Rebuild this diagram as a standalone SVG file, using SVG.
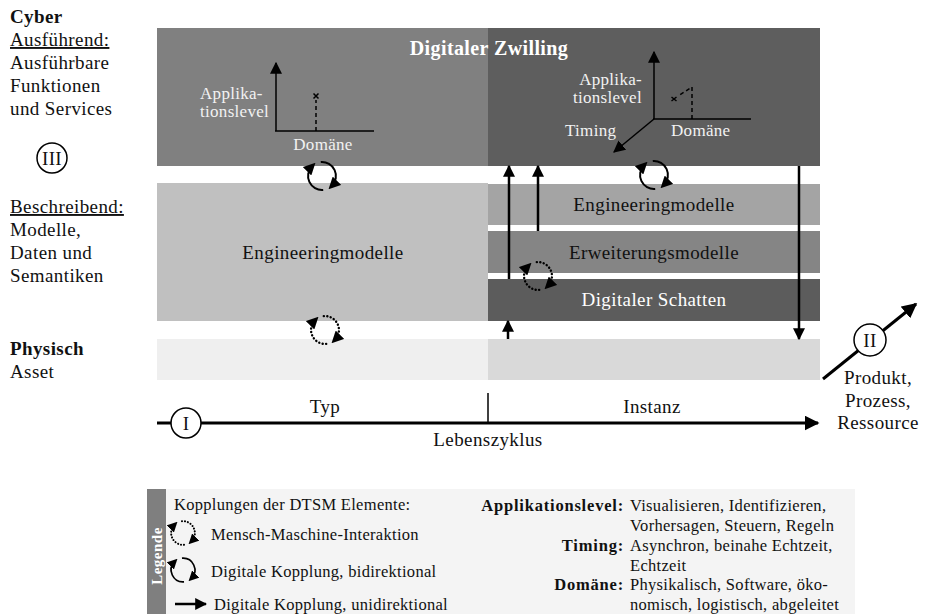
<svg xmlns="http://www.w3.org/2000/svg" width="927" height="614" viewBox="0 0 927 614">
  <style>
    text { font-family: "Liberation Serif", "DejaVu Serif", serif; fill: #111; }
    .lbl { font-size: 19px; letter-spacing: 0.4px; }
    .ax { font-size: 17px; letter-spacing: 0.3px; fill: #f2f2f2; }
    .wt { fill: #ffffff; }
    .b { font-weight: bold; }
    .leg { font-size: 16.5px; letter-spacing: 0.3px; }
    .legb { font-size: 16.5px; letter-spacing: 0.8px; font-weight: bold; }
    .ln { stroke: #000; stroke-width: 2.5; fill: none; }
    .thin { stroke: #000; stroke-width: 1.5; fill: none; }
    .cyc { stroke: #000; stroke-width: 2; fill: none; }
    .dot { stroke-dasharray: 0.1 3.4; stroke-linecap: round; stroke-width: 2.4; }
  </style>
  <defs>
    <marker id="ah" viewBox="0 0 10 10" refX="9" refY="5" markerWidth="12" markerHeight="12" markerUnits="userSpaceOnUse" orient="auto">
      <path d="M0,0 L10,5 L0,10 z" fill="#000"/>
    </marker>
    <marker id="ahs" viewBox="0 0 10 10" refX="6" refY="5" markerWidth="12" markerHeight="12" markerUnits="userSpaceOnUse" orient="auto">
      <path d="M0,0 L10,5 L0,10 z" fill="#000"/>
    </marker>
    <marker id="ahL" viewBox="0 0 10 10" refX="9" refY="5" markerWidth="15" markerHeight="15" markerUnits="userSpaceOnUse" orient="auto">
      <path d="M0,0 L10,5 L0,10 z" fill="#000"/>
    </marker>
    <!-- bidirectional coupling: two arcs chasing each other round a circle -->
    <g id="cycle">
      <path class="cyc" d="M-1.2,-13.9 A14,14 0 0 1 9.9,9.9" marker-end="url(#ahs)"/>
      <path class="cyc" d="M1.2,13.9 A14,14 0 0 1 -9.9,-9.9" marker-end="url(#ahs)"/>
    </g>
    <g id="cycleDot">
      <path class="cyc dot" d="M-1.2,-13.9 A14,14 0 0 1 9.9,9.9" marker-end="url(#ahs)"/>
      <path class="cyc dot" d="M1.2,13.9 A14,14 0 0 1 -9.9,-9.9" marker-end="url(#ahs)"/>
    </g>
  </defs>

  <rect width="927" height="614" fill="#ffffff"/>

  <!-- left column: layer captions -->
  <g id="layer-labels" class="lbl">
    <text x="10" y="23" class="b">Cyber</text>
    <text x="10" y="46" text-decoration="underline">Ausführend:</text>
    <text x="10" y="69">Ausführbare</text>
    <text x="10" y="92">Funktionen</text>
    <text x="10" y="115">und Services</text>
    <text x="10" y="213" text-decoration="underline">Beschreibend:</text>
    <text x="10" y="236">Modelle,</text>
    <text x="10" y="259">Daten und</text>
    <text x="10" y="282">Semantiken</text>
    <text x="10" y="355" class="b">Physisch</text>
    <text x="10" y="378">Asset</text>
  </g>
  <g id="marker-III">
    <circle cx="52" cy="158" r="15" fill="#fff" stroke="#000" stroke-width="1.5"/>
    <text x="52" y="165" class="lbl" text-anchor="middle">III</text>
  </g>

  <!-- digital twin band -->
  <g id="twin">
    <rect x="157" y="28" width="331" height="138" fill="#808080"/>
    <rect x="488" y="28" width="332" height="138" fill="#5e5e5e"/>
    <text x="489" y="55" text-anchor="middle" class="wt b" font-size="20" letter-spacing="0.4">Digitaler Zwilling</text>
  </g>

  <!-- 2D axis chart (type side) -->
  <g id="axes-type">
    <line class="thin" x1="276" y1="131" x2="276" y2="63" marker-end="url(#ah)"/>
    <line class="thin" x1="275" y1="131" x2="374" y2="131"/>
    <line class="thin" x1="316" y1="131" x2="316" y2="100" stroke-dasharray="4 3"/>
    <path class="thin" d="M313.5,93.5 l5,5 M318.5,93.5 l-5,5" stroke-width="1.3"/>
    <text x="200" y="99" class="ax">Applika-</text>
    <text x="200" y="117" class="ax">tionslevel</text>
    <text x="323" y="150" class="ax" text-anchor="middle">Domäne</text>
  </g>

  <!-- 3D axis chart (instance side) -->
  <g id="axes-instance">
    <line class="thin" x1="654" y1="119" x2="654" y2="52" marker-end="url(#ah)"/>
    <line class="thin" x1="653" y1="119" x2="751" y2="119"/>
    <line class="thin" x1="654" y1="119" x2="614" y2="152" marker-end="url(#ah)"/>
    <path class="thin" d="M692,119 V87 L678,96" stroke-dasharray="4 3"/>
    <path class="thin" d="M671.5,97 l5,4 M676.5,97 l-5,4" stroke-width="1.3"/>
    <text x="642" y="85" class="ax" text-anchor="end">Applika-</text>
    <text x="642" y="103" class="ax" text-anchor="end">tionslevel</text>
    <text x="565" y="136" class="ax">Timing</text>
    <text x="671" y="136" class="ax">Domäne</text>
  </g>

  <!-- descriptive layer: type -->
  <g id="models-type">
    <rect x="157" y="183" width="331" height="138" fill="#c0c0c0"/>
    <text x="323" y="259" class="lbl" text-anchor="middle">Engineeringmodelle</text>
  </g>

  <!-- descriptive layer: instance -->
  <g id="models-instance">
    <rect x="488" y="184" width="332" height="41" fill="#a4a4a4"/>
    <text x="654" y="211" class="lbl" text-anchor="middle">Engineeringmodelle</text>
  </g>
  <g id="extension-models">
    <rect x="488" y="231" width="332" height="42" fill="#858585"/>
    <text x="654" y="259" class="lbl" text-anchor="middle">Erweiterungsmodelle</text>
  </g>
  <g id="digital-shadow">
    <rect x="488" y="279" width="332" height="42" fill="#5c5c5c"/>
    <text x="654" y="306" class="lbl wt" text-anchor="middle">Digitaler Schatten</text>
  </g>

  <!-- physical layer -->
  <g id="asset">
    <rect x="157" y="339" width="331" height="41" fill="#efefef"/>
    <rect x="488" y="339" width="332" height="41" fill="#d9d9d9"/>
  </g>

  <!-- couplings -->
  <g id="connectors">
    <line class="ln" x1="509" y1="279" x2="509" y2="166" marker-end="url(#ah)"/>
    <line class="ln" x1="538" y1="231" x2="538" y2="166" marker-end="url(#ah)"/>
    <line class="ln" x1="508" y1="339" x2="508" y2="321" marker-end="url(#ah)"/>
    <line class="ln" x1="799" y1="166" x2="799" y2="339" marker-end="url(#ah)"/>
    <use href="#cycle" x="322" y="176"/>
    <use href="#cycle" x="654" y="175"/>
    <use href="#cycleDot" x="325" y="330"/>
    <use href="#cycleDot" x="538" y="276"/>
  </g>

  <!-- lifecycle axis -->
  <g id="lifecycle">
    <line x1="157" y1="423" x2="818" y2="423" stroke="#000" stroke-width="3" marker-end="url(#ahL)"/>
    <line x1="488" y1="393" x2="488" y2="423" stroke="#000" stroke-width="1.5"/>
    <circle cx="186" cy="423" r="15" fill="#fff" stroke="#000" stroke-width="1.5"/>
    <text x="186" y="430" class="lbl" text-anchor="middle">I</text>
    <text x="325" y="413" class="lbl" text-anchor="middle">Typ</text>
    <text x="652" y="413" class="lbl" text-anchor="middle">Instanz</text>
    <text x="488" y="446" class="lbl" text-anchor="middle">Lebenszyklus</text>
  </g>

  <!-- product / process / resource axis -->
  <g id="ppr">
    <line x1="823" y1="379" x2="916" y2="304" stroke="#000" stroke-width="3" marker-end="url(#ahL)"/>
    <circle cx="870" cy="340" r="16" fill="#fff" stroke="#000" stroke-width="1.5"/>
    <text x="870" y="347" class="lbl" text-anchor="middle">II</text>
    <text x="878" y="384" class="lbl" text-anchor="middle">Produkt,</text>
    <text x="878" y="407" class="lbl" text-anchor="middle">Prozess,</text>
    <text x="878" y="429" class="lbl" text-anchor="middle">Ressource</text>
  </g>

  <!-- legend -->
  <g id="legend">
    <rect x="147" y="489" width="708" height="125" fill="#f4f4f4"/>
    <rect x="147" y="489" width="19" height="125" fill="#7f7f7f"/>
    <text transform="translate(162,556) rotate(-90)" text-anchor="middle" class="wt b" font-size="15" letter-spacing="0.5">Legende</text>
    <text x="174" y="510" class="leg">Kopplungen der DTSM Elemente:</text>
    <use href="#cycleDot" x="183" y="533" transform="translate(183,533) scale(0.85) translate(-183,-533)"/>
    <text x="211" y="540" class="leg">Mensch-Maschine-Interaktion</text>
    <use href="#cycle" x="183" y="570" transform="translate(183,570) scale(0.85) translate(-183,-570)"/>
    <text x="211" y="577" class="leg">Digitale Kopplung, bidirektional</text>
    <line x1="175" y1="604" x2="206" y2="604" stroke="#000" stroke-width="2.5" marker-end="url(#ah)"/>
    <text x="214" y="610" class="leg">Digitale Kopplung, unidirektional</text>

    <text x="624" y="511" class="legb" text-anchor="end">Applikationslevel:</text>
    <text x="630" y="511" class="leg">Visualisieren, Identifizieren,</text>
    <text x="630" y="531" class="leg">Vorhersagen, Steuern, Regeln</text>
    <text x="624" y="551" class="legb" text-anchor="end">Timing:</text>
    <text x="630" y="551" class="leg">Asynchron, beinahe Echtzeit,</text>
    <text x="630" y="571" class="leg">Echtzeit</text>
    <text x="624" y="590" class="legb" text-anchor="end">Domäne:</text>
    <text x="630" y="590" class="leg">Physikalisch, Software, öko-</text>
    <text x="630" y="610" class="leg">nomisch,  logistisch, abgeleitet</text>
  </g>
</svg>
